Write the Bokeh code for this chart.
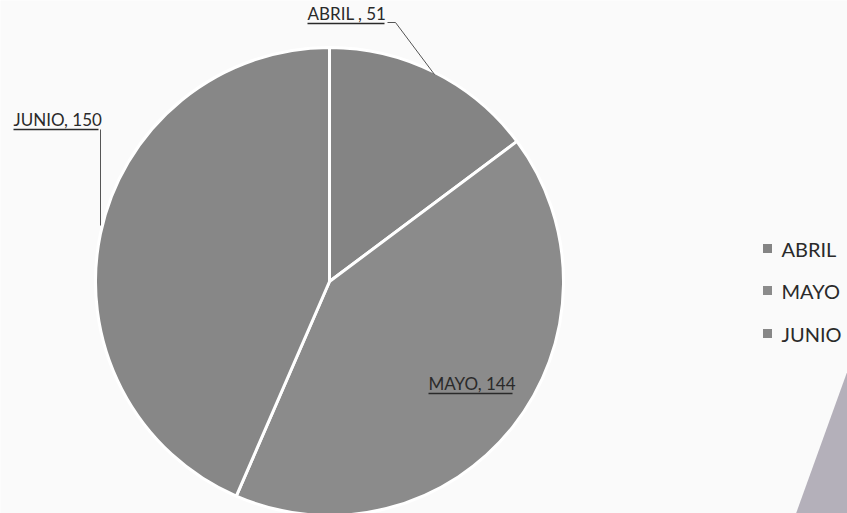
import math
from bokeh.plotting import figure
from bokeh.models import Range1d
from bokeh.core.properties import value
from bokeh.embed import file_html
from bokeh.resources import INLINE

categories = ["ABRIL", "MAYO", "JUNIO"]
values = [51, 144, 150]
colors = ["#848484", "#8b8b8b", "#878787"]

W, H = 847, 513
p = figure(width=W, height=H, output_backend="svg", toolbar_location=None,
           x_range=Range1d(0, W), y_range=Range1d(-H, 0), min_border=0)
p.axis.visible = False
p.grid.visible = False
p.outline_line_color = None
p.background_fill_color = "#fafafa"
p.border_fill_color = "#fafafa"

def X(px):
    return px
def Y(py):
    return -py

# page-edge artifact at lower right
p.patch([X(850), X(850), X(793)], [Y(362), Y(520), Y(520)],
        fill_color="#b4b0ba", line_color=None)

cx, cy, r = X(329), Y(281), 234
total = sum(values)
starts, ends = [], []
acc = 0.0
for v in values:
    a0 = math.pi / 2 - 2 * math.pi * acc / total
    acc += v
    a1 = math.pi / 2 - 2 * math.pi * acc / total
    starts.append(a0)
    ends.append(a1)

p.wedge(x=cx, y=cy, radius=r, start_angle=starts, end_angle=ends,
        direction="clock", fill_color=colors, line_color="white", line_width=3)

font = value("Lato")
tc = "#2a2a2a"

# data labels (y = vertical middle of text)
lab = [f"{categories[0]} , {values[0]}", f"{categories[1]}, {values[1]}", f"{categories[2]}, {values[2]}"]
lx = [X(307), X(428), X(13)]
ly = [Y(13), Y(383), Y(119)]
uw = [77, 84, 85]
p.text(x=lx, y=ly, text=lab, text_font=font, text_font_size="17px",
       text_color=tc, text_baseline="middle", text_align="left")
for x0, y0, w in zip(lx, ly, uw):
    p.line([x0, x0 + w], [y0 - 10, y0 - 10], line_color=tc, line_width=1.4)

# leader lines
p.line([X(387), X(395), X(434)], [Y(22), Y(22), Y(74)], line_color="#555555", line_width=1)
p.line([X(100), X(100)], [Y(129), Y(225)], line_color="#555555", line_width=1)

# legend
legy = [Y(248), Y(290), Y(333)]
p.scatter(x=[X(767)] * 3, y=legy, marker="square", size=9,
          fill_color=colors, line_color=None)
p.text(x=[X(781)] * 3, y=legy, text=categories, text_font=font, text_font_size="20px",
       text_color=tc, text_baseline="middle", text_align="left")

open("out.html", "w").write(file_html(p, INLINE))
